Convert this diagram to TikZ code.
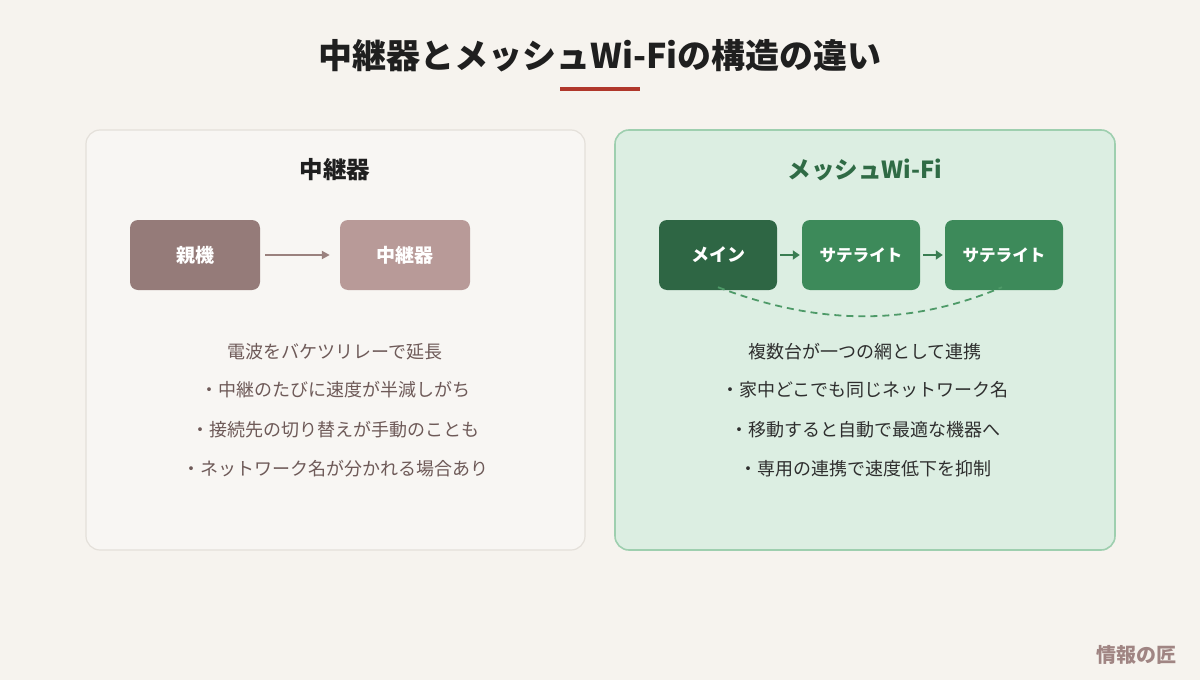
\documentclass[tikz,border=0pt]{standalone}
\usepackage{fontspec}
\setmainfont{Noto Sans CJK JP}
\usetikzlibrary{arrows.meta}
\definecolor{bg}{HTML}{F6F3EE}
\definecolor{lpanel}{HTML}{F8F6F3}
\definecolor{lborder}{HTML}{E4E0DA}
\definecolor{rpanel}{HTML}{DCEEE2}
\definecolor{rborder}{HTML}{9ECFAF}
\definecolor{redline}{HTML}{B0372B}
\definecolor{mauveA}{HTML}{957B79}
\definecolor{mauveB}{HTML}{B89A98}
\definecolor{mauvearrow}{HTML}{9A817E}
\definecolor{ltext}{HTML}{6E5A58}
\definecolor{greenA}{HTML}{2E6644}
\definecolor{greenB}{HTML}{3D8A5A}
\definecolor{garrow}{HTML}{3A7D52}
\definecolor{gdash}{HTML}{4E9A68}
\definecolor{gtitle}{HTML}{2F6B45}
\definecolor{rtext}{HTML}{2E2E2E}
\definecolor{mark}{HTML}{A08583}
\tikzset{
  panelL/.style={draw=lborder, line width=1.2pt, fill=lpanel, rounded corners=14pt},
  panelR/.style={draw=rborder, line width=1.6pt, fill=rpanel, rounded corners=14pt},
  devbox/.style={rounded corners=8pt, minimum height=70pt, text=white, font=\bfseries\fontsize{19}{22}\selectfont, inner sep=0pt},
  heading/.style={font=\bfseries\fontsize{23.5}{28}\selectfont},
  bodytext/.style={font=\fontsize{18}{22}\selectfont},
}
\begin{document}
\begin{tikzpicture}[x=1pt,y=-1pt]
\fill[bg] (0,0) rectangle (1200,680);
\useasboundingbox (0,0) rectangle (1200,680);
% title
\node[font=\bfseries\fontsize{34}{40}\selectfont, text=black!88] (title) at (600,56) {中継器とメッシュWi-Fiの構造の違い};
\fill[redline] (560,87) rectangle (640,91);
% panels
\draw[panelL] (86,130) rectangle (585,550);
\draw[panelR] (615,130) rectangle (1115,550);
% left
\node[heading, text=black!88] (lh) at (335,170) {中継器};
\node[devbox, fill=mauveA, minimum width=130pt] (oya) at (195,255) {親機};
\node[devbox, fill=mauveB, minimum width=130pt] (chu) at (405,255) {中継器};
\draw[mauvearrow, line width=2pt, -{Triangle[length=8pt,width=8pt]}] ([xshift=5pt]oya.east) -- ([xshift=-10pt]chu.west);
\node[bodytext, text=ltext] (l1) at (335,352) {電波をバケツリレーで延長};
\node[bodytext, text=ltext] (l2) at (335,390) {・中継のたびに速度が半減しがち};
\node[bodytext, text=ltext] (l3) at (335,430) {・接続先の切り替えが手動のことも};
\node[bodytext, text=ltext] (l4) at (335,469) {・ネットワーク名が分かれる場合あり};
% right
\node[heading, text=gtitle] (rh) at (865,170) {メッシュWi-Fi};
\node[devbox, fill=greenA, minimum width=118pt, font=\bfseries\fontsize{18}{22}\selectfont] (main) at (718,255) {メイン};
\node[devbox, fill=greenB, minimum width=118pt, font=\bfseries\fontsize{16.6}{20}\selectfont] (s1) at (861,255) {サテライト};
\node[devbox, fill=greenB, minimum width=118pt, font=\bfseries\fontsize{16.6}{20}\selectfont] (s2) at (1004,255) {サテライト};
\draw[garrow, line width=2.4pt, -{Triangle[length=7pt,width=9pt]}] ([xshift=3pt]main.east) -- ([xshift=-2pt]s1.west);
\draw[garrow, line width=2.4pt, -{Triangle[length=7pt,width=9pt]}] ([xshift=3pt]s1.east) -- ([xshift=-2pt]s2.west);
\draw[gdash, line width=1.8pt, dash pattern=on 7pt off 5pt] ([yshift=3pt]main.south) .. controls (820,326) and (910,326) .. ([xshift=-2pt,yshift=3pt]s2.south);
\node[bodytext, text=rtext] (r1) at (865,352) {複数台が一つの網として連携};
\node[bodytext, text=rtext] (r2) at (865,390) {・家中どこでも同じネットワーク名};
\node[bodytext, text=rtext] (r3) at (865,430) {・移動すると自動で最適な機器へ};
\node[bodytext, text=rtext] (r4) at (865,469) {・専用の連携で速度低下を抑制};
% watermark
\node[font=\bfseries\fontsize{20}{24}\selectfont, text=mark] (wm) at (1136,655) {情報の匠};
\end{tikzpicture}
\end{document}
